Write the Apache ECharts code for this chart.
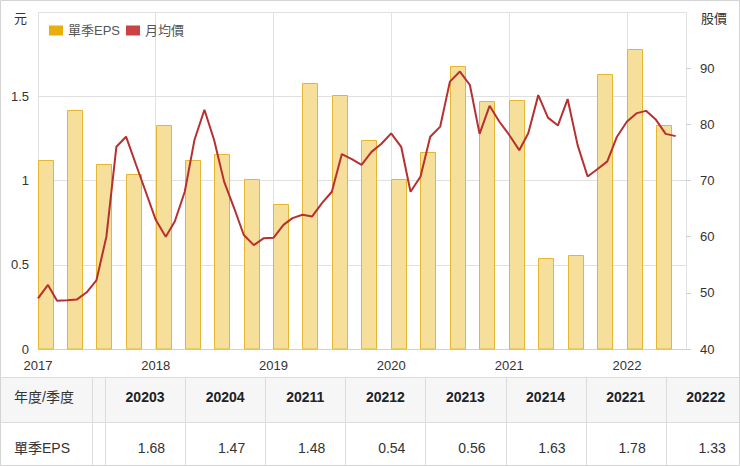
<!DOCTYPE html>
<html><head><meta charset="utf-8">
<script src="https://cdn.jsdelivr.net/npm/echarts@6/dist/echarts.min.js"></script>
<style>html,body{margin:0;padding:0;background:#fff}#c{width:740px;height:466px}</style>
</head><body><div id="c"></div>
<script>
// ---- data ----
const quarters = ['20171','20172','20173','20174','20181','20182','20183','20184','20191','20192','20193','20194',
                  '20201','20202','20203','20204','20211','20212','20213','20214','20221','20222'];
const epsValues = [1.12,1.42,1.10,1.04,1.33,1.12,1.16,1.01,0.86,1.58,1.51,1.24,
                   1.01,1.17,1.68,1.47,1.48,0.54,0.56,1.63,1.78,1.33];
const priceStartYear = 2017;
const priceValues = [
  49.0,51.4,48.6,48.7,48.8,50.1,52.2,60.0,76.0,77.8,72.8,68.0,
  63.0,60.0,62.7,68.0,77.2,82.6,77.2,69.8,65.1,60.3,58.5,59.7,
  59.8,62.1,63.3,63.9,63.6,66.0,68.0,74.7,73.8,72.8,75.1,76.5,
  78.4,76.0,68.0,70.7,77.8,79.6,87.6,89.4,87.0,78.3,83.3,80.5,
  78.1,75.4,78.4,85.2,81.2,79.8,84.5,76.3,70.7,72.0,73.4,77.8,
  80.5,82.0,82.4,80.8,78.3,77.9
];
const seriesNames = ['單季EPS','月均價'];
const tableRowLabels = ['年度/季度','單季EPS'];
const tableCount = 8;

// ---- build ----
const FONT = "'Liberation Sans', Arial, 'Noto Sans CJK TC', sans-serif";
const BAR_FILL = '#F6DF9A', BAR_STROKE = '#E4B632', BAR_W = 15;
function pad(n){return (n<10?'0':'')+n;}
function quarterDate(q){
  const y = q.slice(0,4), k = +q.slice(4);
  return y + '-' + pad(k*3-2) + '-24';
}
const barData = quarters.map((q,i)=>[quarterDate(q), epsValues[i]]);
const lineData = priceValues.map((v,i)=>{
  const y = priceStartYear + Math.floor(i/12), m = i%12 + 1;
  return [y + '-' + pad(m) + '-01', v];
});

// table graphics
const tQ = quarters.slice(-tableCount), tV = epsValues.slice(-tableCount);
const T = {top:377, rowH:45, bottom:466, firstW:92, gap:13, colW:80.1};
const g = [];
g.push({type:'rect', silent:true, shape:{x:0,y:T.top,width:740,height:T.rowH}, style:{fill:'#f6f6f6'}});
function hline(y){g.push({type:'line',silent:true,shape:{x1:0,y1:y,x2:740,y2:y},style:{stroke:'#dcdcdc',lineWidth:1}});}
function vline(x){g.push({type:'line',silent:true,shape:{x1:x,y1:T.top,x2:x,y2:T.bottom},style:{stroke:'#dcdcdc',lineWidth:1}});}
hline(T.top+0.5); hline(T.top+T.rowH+0.5);
vline(T.firstW+0.5); vline(T.firstW+T.gap+0.5);
const x0 = T.firstW + T.gap;
tQ.forEach((q,i)=>{
  const cx = x0 + i*T.colW;
  if(i>0) vline(Math.round(cx)+0.5);
  g.push({type:'text',silent:true,style:{text:q,x:cx+T.colW/2,y:T.top+T.rowH/2-3,align:'center',verticalAlign:'middle',
    font:"bold 14px "+FONT, fill:'#222'}});
  g.push({type:'text',silent:true,style:{text:tV[i].toFixed(2),x:cx+T.colW-20,y:T.top+T.rowH*1.5+3,align:'right',verticalAlign:'middle',
    font:"14px "+FONT, fill:'#333'}});
});
g.push({type:'text',silent:true,style:{text:tableRowLabels[0],x:14,y:T.top+T.rowH/2-3,align:'left',verticalAlign:'middle',font:"14px "+FONT,fill:'#333'}});
g.push({type:'text',silent:true,style:{text:tableRowLabels[1],x:14,y:T.top+T.rowH*1.5+3,align:'left',verticalAlign:'middle',font:"14px "+FONT,fill:'#333'}});
g.push({type:'rect',silent:true,shape:{x:0.5,y:0.5,width:739,height:465},style:{fill:'none',stroke:'#d4d4d4',lineWidth:1}});

const chart = echarts.init(document.getElementById('c'), null, {renderer:'svg'});
chart.setOption({
  animation:false,
  backgroundColor:'#fff',
  textStyle:{fontFamily:FONT},
  grid:{left:38,right:54,top:12,bottom:117,containLabel:false},
  legend:{
    left:44, top:19, icon:'rect', itemWidth:14, itemHeight:10, itemGap:6,
    textStyle:{fontSize:13,color:'#555',fontFamily:FONT},
    data:[
      {name:seriesNames[0], itemStyle:{color:'#E8AE0C',borderWidth:0,opacity:1}},
      {name:seriesNames[1], itemStyle:{color:'#CC4142',borderWidth:0,opacity:1}}
    ]
  },
  xAxis:{
    type:'time', min:'2017-01-01', max:'2022-07-03',
    minInterval:365*24*3600*1000,
    axisLine:{show:true,lineStyle:{color:'#f3c1c1'}},
    axisTick:{show:false},
    axisLabel:{formatter:(v)=>String(new Date(v + 2*86400000).getFullYear()),color:'#333',fontSize:13,margin:10,showMinLabel:true,fontFamily:FONT},
    splitLine:{show:true,lineStyle:{color:'#e2e2e2'}}
  },
  yAxis:[
    {type:'value',min:0,max:2,interval:0.5,name:'元',nameLocation:'end',nameGap:-13,
     nameTextStyle:{align:'right',padding:[0,11,0,0],fontSize:13,color:'#333',fontFamily:FONT},
     axisLine:{show:false},axisTick:{show:false},
     axisLabel:{showMaxLabel:false,color:'#333',fontSize:13,margin:9,fontFamily:FONT},
     splitLine:{lineStyle:{color:'#e0e0e0'}}},
    {type:'value',min:40,max:100,interval:10,name:'股價',nameLocation:'end',nameGap:-13,position:'right',
     nameTextStyle:{align:'left',padding:[0,0,0,15],fontSize:13,color:'#333',fontFamily:FONT},
     axisLine:{show:false},axisTick:{show:true,length:5,lineStyle:{color:'#cfcfcf'}},
     axisLabel:{showMaxLabel:false,color:'#333',fontSize:13,margin:14,fontFamily:FONT},
     splitLine:{show:false}}
  ],
  series:[
    {name:seriesNames[0],type:'custom',xAxisIndex:0,yAxisIndex:0,data:barData,
     encode:{x:0,y:1},
     itemStyle:{color:'#E8AE0C'},
     renderItem:function(params, api){
       const top = api.coord([api.value(0), api.value(1)]);
       const base = api.coord([api.value(0), 0]);
       const x = Math.round(top[0] - BAR_W/2) + 0.5;
       return {type:'rect',
         shape:{x:x, y:Math.round(top[1])+0.5, width:BAR_W, height:Math.round(base[1]) - Math.round(top[1]) - 0.5},
         style:{fill:BAR_FILL, stroke:BAR_STROKE, lineWidth:1}};
     }},
    {name:seriesNames[1],type:'line',yAxisIndex:1,data:lineData,showSymbol:false,symbol:'none',z:3,
     lineStyle:{color:'#B7302F',width:2},itemStyle:{color:'#B7302F'}}
  ],
  graphic:g
});
</script></body></html>
